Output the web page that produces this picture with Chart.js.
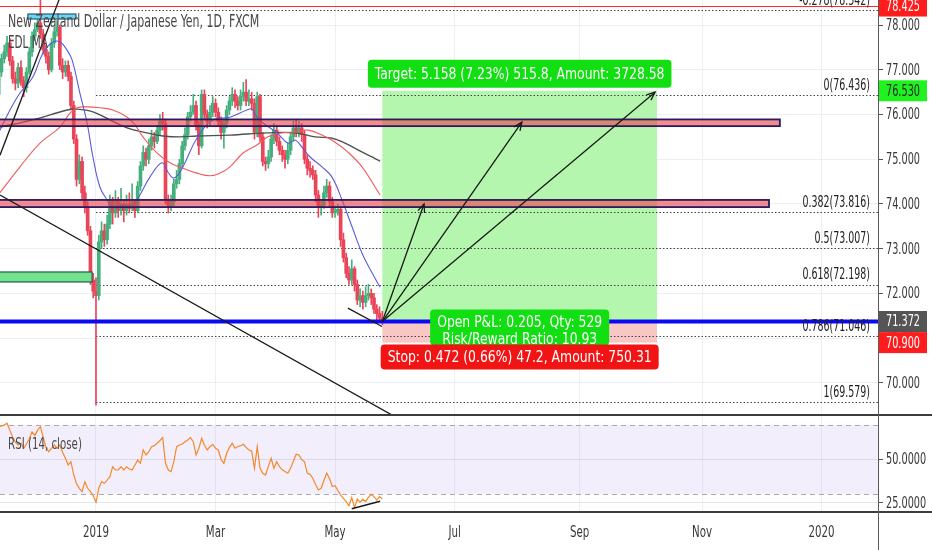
<!DOCTYPE html>
<html lang="en">
<head>
    <meta charset="UTF-8">
    <title>NZDJPY 1D</title>
    <script src="https://cdn.jsdelivr.net/npm/chart.js"></script>
    <style>
        body {
            margin: 0;
            background: #fff;
            overflow: hidden;
        }

        #wrap {
            position: relative;
            width: 932px;
            height: 550px;
        }

        canvas {
            position: absolute;
            left: 0;
        }

        #price { top: 0; }
        #rsi { top: 416px; }

        .hsep {
            position: absolute;
            left: 0;
            width: 932px;
            height: 2px;
            background: #3c3c3c;
        }

        #axisLine {
            position: absolute;
            left: 878px;
            top: 0;
            width: 1px;
            height: 550px;
            background: #5a5a5a;
        }
    </style>
</head>

<body>
    <div id="wrap">
        <canvas id="price" width="932" height="414"></canvas>
        <div class="hsep" style="top:414px"></div>
        <canvas id="rsi" width="932" height="134"></canvas>
        <div class="hsep" style="top:511px"></div>
        <div id="axisLine"></div>
    </div>

    <script>
        // ---- time axis (one unit = one daily bar, bar 0 = 13 Nov 2018) ----
        const monthBars = [35, 78, 121, 164, 209, 253, 296];
        const monthLabels = ['2019', 'Mar', 'May', 'Jul', 'Sep', 'Nov', '2020'];

        // ---- daily candles, NZD/JPY ----
        const firstOpen = 76.45;
        const closes = [
            76.95, 77.25, 77.40, 77.60, 77.20, 76.80, 76.70, 77.05, 76.75, 76.60,
            76.95, 77.40, 77.75, 77.90, 78.05, 77.80, 77.45, 77.30, 77.00, 77.60,
            77.85, 77.95, 77.10, 76.95, 77.10, 76.85, 76.20, 75.45, 74.55, 74.95,
            74.25, 73.95, 73.40, 72.30, 72.05, 71.95, 73.15, 73.40, 73.20, 73.55,
            74.05, 73.80, 74.05, 73.85, 74.00, 73.85, 74.00, 73.90, 74.05, 73.85,
            74.40, 74.85, 75.15, 75.00, 75.30, 75.50, 75.40, 75.65, 75.85, 75.80,
            74.10, 73.95, 74.05, 74.45, 74.55, 74.90, 75.30, 75.55, 75.95, 76.05,
            76.20, 75.75, 75.30, 76.45, 76.00, 75.85, 76.05, 76.25, 76.05, 75.85,
            75.60, 75.80, 76.10, 76.30, 76.45, 76.30, 76.20, 76.40, 76.50, 76.30,
            76.35, 76.25, 75.60, 76.40, 75.50, 74.95, 74.90, 75.05, 75.45, 75.65,
            75.40, 75.20, 75.10, 75.00, 75.20, 75.50, 75.70, 75.60, 75.70, 75.55,
            75.00, 74.80, 74.75, 74.65, 74.20, 73.95, 73.97, 74.25, 74.40, 74.05,
            73.80, 73.85, 73.88, 73.20, 72.80, 72.45, 72.30, 72.55, 72.20, 71.85,
            71.95, 71.80, 71.95, 72.00, 71.90, 71.65, 71.55, 71.45, 71.37
        ];
        const highs = [
            77.05, 77.35, 77.55, 77.75, 77.70, 77.30, 76.95, 77.15, 77.20, 76.85,
            77.05, 77.50, 77.85, 78.05, 78.20, 78.65, 77.90, 77.55, 77.40, 77.70,
            77.95, 78.10, 78.00, 77.25, 77.20, 77.20, 76.95, 76.30, 75.55, 75.10,
            75.05, 74.40, 74.05, 73.50, 72.45, 72.35, 73.30, 73.60, 73.55, 73.75,
            74.20, 74.15, 74.30, 74.15, 74.35, 74.10, 74.20, 74.25, 74.45, 74.10,
            74.50, 74.95, 75.30, 75.25, 75.45, 75.65, 75.60, 75.75, 76.00, 76.05,
            75.90, 74.20, 74.20, 74.55, 74.75, 75.00, 75.40, 75.70, 76.05, 76.20,
            76.45, 76.30, 75.85, 76.55, 76.55, 76.10, 76.20, 76.40, 76.35, 76.15,
            75.95, 75.90, 76.20, 76.40, 76.60, 76.55, 76.40, 76.55, 76.72, 76.78,
            76.55, 76.50, 76.35, 76.50, 76.45, 75.60, 75.05, 75.20, 75.55, 75.80,
            75.75, 75.50, 75.30, 75.20, 75.35, 75.60, 75.85, 75.90, 75.85, 75.80,
            75.65, 75.10, 74.95, 74.85, 74.75, 74.30, 74.10, 74.40, 74.55, 74.50,
            74.15, 73.95, 74.00, 73.95, 73.35, 72.90, 72.60, 72.75, 72.60, 72.30,
            72.10, 72.05, 72.15, 72.20, 72.10, 72.00, 71.75, 71.70, 71.60
        ];
        const lows = [
            76.35, 76.85, 77.15, 77.30, 77.10, 76.70, 76.55, 76.60, 76.65, 76.40,
            76.50, 76.90, 77.30, 77.65, 77.85, 77.70, 77.35, 77.15, 76.90, 76.95,
            77.50, 77.75, 77.00, 76.80, 76.85, 76.75, 76.10, 75.35, 74.40, 74.45,
            74.10, 73.80, 73.30, 72.20, 71.90, 69.50, 71.85, 73.00, 73.05, 73.10,
            73.45, 73.55, 73.70, 73.70, 73.75, 73.60, 73.75, 73.80, 73.85, 73.70,
            73.80, 74.30, 74.75, 74.85, 74.90, 75.20, 75.25, 75.35, 75.55, 75.65,
            74.00, 73.80, 73.85, 73.95, 74.35, 74.45, 74.80, 75.20, 75.45, 75.85,
            76.00, 75.65, 75.10, 75.25, 75.90, 75.70, 75.75, 75.95, 75.95, 75.75,
            75.45, 75.25, 75.70, 76.00, 76.20, 76.15, 76.10, 76.10, 76.30, 76.20,
            76.20, 76.10, 75.45, 75.50, 75.40, 74.85, 74.75, 74.80, 74.95, 75.35,
            75.30, 75.10, 74.95, 74.80, 74.90, 75.10, 75.40, 75.50, 75.50, 75.40,
            74.90, 74.65, 74.60, 74.55, 74.05, 73.70, 73.75, 73.90, 74.15, 73.95,
            73.70, 73.70, 73.75, 73.05, 72.70, 72.35, 72.20, 72.20, 72.05, 71.75,
            71.70, 71.65, 71.70, 71.85, 71.75, 71.55, 71.40, 71.35, 71.30
        ];

        // ---- moving averages (EDL MA) ----
        const maFastBars = [0.47, 4.06, 7.66, 12.3, 15.9, 19.5, 22.1, 24.6, 26.4, 29.2, 31.8, 33.9, 36.4, 39.0, 41.1,
            44.4, 47.2, 49.7, 54.4, 58.7, 60.9, 62.7, 64.5, 67.0, 71.3, 77.1, 83.2, 89.3, 91.1, 92.9, 95.1,
            100.1, 104.1, 106.6, 109.1, 112.0, 116.3, 119.9, 123.5, 127.1, 130.7, 134.3, 137.2];
        const maFastValues = [75.65, 76.10, 76.48, 76.84, 77.37, 77.62, 77.62, 77.44, 77.22, 76.48, 75.81, 75.05, 74.38,
            74.09, 73.93, 73.98, 73.93, 74.09, 74.60, 74.92, 74.71, 74.58, 74.65, 74.92, 75.47, 75.88, 75.94, 76.10,
            76.12, 75.94, 75.81, 75.59, 75.36, 75.43, 75.27, 75.05, 74.83, 74.60, 74.09, 73.49, 72.90, 72.46, 72.14];
        const maMidBars = [0.47, 7.66, 14.86, 22.05, 25.65, 28.2, 31.8, 36.4, 41.1, 46.2, 49.0, 51.9, 56.9, 61.6, 66.3,
            71.3, 76.0, 79.6, 83.2, 87.9, 92.9, 96.9, 101.9, 106.6, 111.3, 116.3, 121.0, 125.6, 130.7, 135.4, 137.2];
        const maMidValues = [74.25, 74.83, 75.36, 75.72, 76.03, 76.15, 76.17, 76.15, 76.10, 75.94, 75.77, 75.50, 75.14,
            74.92, 74.80, 74.69, 74.63, 74.69, 74.83, 75.14, 75.32, 75.50, 75.59, 75.61, 75.65, 75.54, 75.38, 75.16,
            74.83, 74.38, 74.20];
        const maSlowBars = [0.47, 12.3, 24.6, 28.2, 33.9, 40.0, 46.2, 53.3, 59.1, 65.2, 71.3, 83.2, 96.5, 106.6, 113.8,
            119.9, 124.6, 129.2, 134.3, 137.2];
        const maSlowValues = [75.72, 75.88, 76.10, 76.12, 76.06, 75.88, 75.70, 75.59, 75.52, 75.50, 75.52, 75.54, 75.59,
            75.59, 75.50, 75.47, 75.36, 75.21, 75.05, 74.96];

        // ---- RSI (14, close), one value per bar ----
        const rsiValues = [
            69, 69.5, 70, 71, 67, 63, 60, 58.4, 59.4, 56.5,
            59, 62, 66, 64, 67, 69, 63, 57, 54.5, 56.5,
            58.4, 56.5, 58.4, 54, 50.7, 46.8, 48.7, 41, 36, 33.3,
            31.4, 37.1, 33.3, 31.4, 29, 25.2, 33.3, 37.1, 36.2, 38,
            40, 45.8, 43.9, 44, 45.8, 43.9, 45.8, 44.5, 43.9, 46.8,
            49.7, 47.8, 55.5, 52.6, 54.5, 57.4, 58, 59.4, 61, 62.7,
            47.8, 43.9, 43, 48.7, 57.4, 58.4, 59, 60.3, 61.3, 62.7,
            60.3, 52.6, 56.5, 62.3, 58.4, 55.5, 57.4, 58.8, 56.5, 55.5,
            50, 47.8, 53.6, 57, 59.4, 56.5, 57.4, 58, 58.8, 57,
            55.5, 55, 44.9, 57.4, 45, 42, 41, 46, 50.7, 44.9,
            48.7, 45.8, 44, 43, 42, 44.9, 49, 53, 52.6, 50,
            48.7, 42, 41.4, 39, 35.5, 32.3, 33.3, 38, 42, 39,
            34.3, 34.8, 32, 29.4, 27.5, 25.6, 23.2, 27.9, 22.1, 27.1,
            25.2, 26.9, 25.6, 28, 29.8, 28.5, 26.5, 28.5, 27
        ];
        const rsiTicks = [25, 50];
        const rsiBand = [30, 70];

        // ---- price axis ----
        const priceTicks = [70, 71, 72, 73, 74, 75, 76, 77, 78];
        const axisTagPrices = [78.425, 76.530, 71.372, 70.900];

        // ---- drawings ----
        const fibLevels = ['-0.278', '0', '0.382', '0.5', '0.618', '0.786', '1'];
        const fibPrices = [78.342, 76.436, 73.816, 73.007, 72.198, 71.046, 69.579];
        const fibStartBar = 35;

        const zoneTops = [75.89, 74.09];
        const zoneBottoms = [75.74, 73.93];
        const zoneEndBars = [281.0, 277.1];

        const posStartBar = 138, posEndBar = 236.8;
        const posEntry = 71.372, posTarget = 76.530, posStop = 70.900;
        const arrowBars = [153.0, 188.2, 236.1];
        const arrowPrices = [74.00, 75.83, 76.50];

        const trendLines = [
            [0.47, 75.09, 24, 78.94],
            [0.47, 74.20, 141.5, 69.28],
            [125.6, 71.67, 137.9, 71.26]
        ];
        const rsiTrend = [127, 21.5, 137.2, 25.8];

        const FONT = "'DejaVu Sans Condensed', 'DejaVu Sans', sans-serif";
        const xMin = 0.47, xMax = 316.3;

        const opens = [firstOpen].concat(closes.slice(0, -1));
        const candleColors = closes.map((c, i) => c >= opens[i] ? '#45b07e' : '#e94458');

        // text helper (sx squeezes the text horizontally)
        function text(ctx, str, x, y, size, color, align, sx) {
            ctx.save();
            ctx.font = size + 'px ' + FONT;
            ctx.fillStyle = color;
            ctx.textBaseline = 'middle';
            ctx.textAlign = align || 'left';
            ctx.translate(x, y);
            ctx.scale(sx || 1, 1);
            ctx.fillText(str, 0, 0);
            ctx.restore();
        }

        function textWidth(ctx, str, size, sx) {
            ctx.save();
            ctx.font = size + 'px ' + FONT;
            const w = ctx.measureText(str).width * (sx || 1);
            ctx.restore();
            return w;
        }

        const LBL_SX = 0.86;

        function tagBox(ctx, str, cx, top, h, fill, size) {
            const w = textWidth(ctx, str, size, LBL_SX) + 14;
            ctx.fillStyle = fill;
            ctx.beginPath();
            ctx.roundRect(cx - w / 2, top, w, h, 4);
            ctx.fill();
            text(ctx, str, cx, top + h / 2 + 1, size, '#fff', 'center', LBL_SX);
        }

        function arrow(ctx, x0, y0, x1, y1) {
            ctx.beginPath();
            ctx.moveTo(x0, y0);
            ctx.lineTo(x1, y1);
            ctx.stroke();
            const a = Math.atan2(y1 - y0, x1 - x0), L = 9;
            ctx.beginPath();
            ctx.moveTo(x1 - L * Math.cos(a - 0.4), y1 - L * Math.sin(a - 0.4));
            ctx.lineTo(x1, y1);
            ctx.lineTo(x1 - L * Math.cos(a + 0.4), y1 - L * Math.sin(a + 0.4));
            ctx.stroke();
        }

        // right-hand axis labels, squeezed like the original screenshot
        function yLabels(chart, digits) {
            const { ctx, chartArea: a, scales: { y } } = chart;
            y.ticks.forEach(t => {
                text(ctx, t.value.toFixed(digits), a.right + 8, y.getPixelForValue(t.value) + 1, 15, '#383838', 'left', 0.72);
            });
        }

        const drawings = {
            id: 'drawings',
            beforeDatasetsDraw(chart) {
                const { ctx, chartArea: a, scales: { x, y } } = chart;
                const X = v => x.getPixelForValue(v), Y = v => y.getPixelForValue(v);
                ctx.save();
                ctx.beginPath();
                ctx.rect(a.left, a.top, a.right - a.left, a.bottom - a.top);
                ctx.clip();

                // long position areas
                const x0 = X(posStartBar), x1 = X(posEndBar);
                ctx.fillStyle = '#b5f6ae';
                ctx.fillRect(x0, Y(posTarget), x1 - x0, Y(posEntry) - Y(posTarget));
                ctx.fillStyle = '#f9c6c6';
                ctx.fillRect(x0, Y(posEntry), x1 - x0, Y(posStop) - Y(posEntry));

                // fibonacci levels
                ctx.strokeStyle = '#444';
                ctx.lineWidth = 1;
                ctx.setLineDash([1.5, 2]);
                fibPrices.forEach(p => {
                    const yy = Math.round(Y(p)) + 0.5;
                    ctx.beginPath();
                    ctx.moveTo(X(fibStartBar), yy);
                    ctx.lineTo(a.right, yy);
                    ctx.stroke();
                });
                ctx.restore();
            },
            afterDatasetsDraw(chart) {
                const { ctx, chartArea: a, scales: { x, y } } = chart;
                const X = v => x.getPixelForValue(v), Y = v => y.getPixelForValue(v);
                ctx.save();
                ctx.beginPath();
                ctx.rect(a.left, a.top, a.right - a.left, a.bottom - a.top);
                ctx.clip();

                // support / resistance zones
                zoneTops.forEach((t, i) => {
                    const x0 = X(-5), x1 = X(zoneEndBars[i]);
                    ctx.fillStyle = 'rgba(238, 62, 74, 0.6)';
                    ctx.fillRect(x0, Y(t), x1 - x0, Y(zoneBottoms[i]) - Y(t));
                    ctx.strokeStyle = '#2a1c5c';
                    ctx.lineWidth = 1.8;
                    ctx.strokeRect(x0, Y(t), x1 - x0, Y(zoneBottoms[i]) - Y(t));
                });

                // small boxes
                ctx.fillStyle = '#72e28c';
                ctx.strokeStyle = '#1d5e52';
                ctx.lineWidth = 1.2;
                ctx.fillRect(X(-5), Y(72.479), X(33.6) - X(-5), Y(72.256) - Y(72.479));
                ctx.strokeRect(X(-5), Y(72.479), X(33.6) - X(-5), Y(72.256) - Y(72.479));
                ctx.fillStyle = '#6fd4ef';
                ctx.strokeStyle = '#22607f';
                ctx.fillRect(X(10.5), Y(78.247), X(27.8) - X(10.5), Y(78.135) - Y(78.247));
                ctx.strokeRect(X(10.5), Y(78.247), X(27.8) - X(10.5), Y(78.135) - Y(78.247));

                // alert line and entry line
                ctx.strokeStyle = '#ff2a2a';
                ctx.lineWidth = 1;
                ctx.beginPath();
                ctx.moveTo(a.left, Math.round(Y(78.425)) + 0.5);
                ctx.lineTo(a.right, Math.round(Y(78.425)) + 0.5);
                ctx.stroke();
                ctx.strokeStyle = '#0a0af2';
                ctx.lineWidth = 4;
                ctx.beginPath();
                ctx.moveTo(a.left, Y(posEntry));
                ctx.lineTo(a.right, Y(posEntry));
                ctx.stroke();

                // trend lines
                ctx.strokeStyle = '#1a1a1a';
                ctx.lineWidth = 1.3;
                trendLines.forEach(l => {
                    ctx.beginPath();
                    ctx.moveTo(X(l[0]), Y(l[1]));
                    ctx.lineTo(X(l[2]), Y(l[3]));
                    ctx.stroke();
                });

                // arrows from the entry
                arrowBars.forEach((b, i) => arrow(ctx, X(posStartBar), Y(posEntry), X(b), Y(arrowPrices[i])));

                // fib labels
                fibPrices.forEach((p, i) => {
                    text(ctx, fibLevels[i] + '(' + p.toFixed(3) + ')', a.right - 8, Y(p) - 9, 15, '#222', 'right', 0.7);
                });

                // position labels
                const cx = (X(posStartBar) + X(posEndBar)) / 2;
                tagBox(ctx, 'Target: 5.158 (7.23%) 515.8, Amount: 3728.58', cx, Y(posTarget) - 31, 28, '#12df12', 16);
                ctx.fillStyle = '#12df12';
                ctx.beginPath();
                const pw = textWidth(ctx, 'Open P&L: 0.205, Qty: 529', 16, LBL_SX) + 14;
                ctx.roundRect(cx - pw / 2, Y(posEntry) - 12, pw, 36, 4);
                ctx.fill();
                text(ctx, 'Open P&L: 0.205, Qty: 529', cx, Y(posEntry) + 1, 16, '#fff', 'center', LBL_SX);
                text(ctx, 'Risk/Reward Ratio: 10.93', cx, Y(posEntry) + 18, 16, '#fff', 'center', LBL_SX);
                tagBox(ctx, 'Stop: 0.472 (0.66%) 47.2, Amount: 750.31', cx, Y(posStop) + 2, 25, '#f21414', 16);

                // legend texts
                text(ctx, 'New Zealand Dollar / Japanese Yen, 1D, FXCM', 8, 23, 17, '#474747', 'left', 0.72);
                text(ctx, 'EDL MA', 8, 44, 17, '#474747', 'left', 0.68);
                ctx.restore();
            },
            afterDraw(chart) {
                const { ctx, chartArea: a, scales: { y } } = chart;
                yLabels(chart, 3);
                const fills = ['#ff1c1c', '#1ff21f', '#555555', '#ff1c1c'];
                const inks = ['#fff', '#2a2a2a', '#fff', '#fff'];
                axisTagPrices.forEach((p, i) => {
                    const yy = y.getPixelForValue(p);
                    ctx.fillStyle = fills[i];
                    ctx.fillRect(a.right + 1, yy - 10.5, 48, 21);
                    text(ctx, p.toFixed(3), a.right + 25, yy + 1, 15, inks[i], 'center', 0.72);
                });
            }
        };

        new Chart(document.getElementById('price'), {
            type: 'bar',
            data: {
                datasets: [
                    {
                        type: 'line',
                        data: maFastBars.map((b, i) => ({ x: b, y: maFastValues[i] })),
                        borderColor: '#5a5cdb', borderWidth: 1.1, pointRadius: 0, tension: 0.4, order: 0
                    },
                    {
                        type: 'line',
                        data: maMidBars.map((b, i) => ({ x: b, y: maMidValues[i] })),
                        borderColor: '#f25a5a', borderWidth: 1.1, pointRadius: 0, tension: 0.4, order: 0
                    },
                    {
                        type: 'line',
                        data: maSlowBars.map((b, i) => ({ x: b, y: maSlowValues[i] })),
                        borderColor: '#505050', borderWidth: 1.4, pointRadius: 0, tension: 0.4, order: 0
                    },
                    {
                        data: closes.map((c, i) => ({ x: i, y: [opens[i], c] })),
                        backgroundColor: candleColors, barThickness: 3, grouped: false, order: 1
                    },
                    {
                        data: closes.map((c, i) => ({ x: i, y: [lows[i], highs[i]] })),
                        backgroundColor: candleColors, barThickness: 1, grouped: false, order: 2
                    }
                ]
            },
            options: {
                responsive: false,
                animation: false,
                events: [],
                layout: { padding: 0 },
                plugins: { legend: { display: false }, tooltip: { enabled: false } },
                scales: {
                    x: {
                        type: 'linear', min: xMin, max: xMax, offset: false,
                        grid: { color: '#eceff4', drawTicks: false, offset: false },
                        border: { display: false },
                        ticks: { display: false },
                        afterBuildTicks: s => { s.ticks = monthBars.map(v => ({ value: v })); },
                        afterFit: s => { s.height = 0; s.paddingLeft = 0; s.paddingRight = 0; }
                    },
                    y: {
                        position: 'right', min: 69.304, max: 78.56,
                        grid: { color: '#eceff4', tickColor: '#555', tickLength: 5 },
                        border: { display: false },
                        ticks: { display: false },
                        afterBuildTicks: s => { s.ticks = priceTicks.map(v => ({ value: v })); },
                        afterFit: s => { s.width = 54; s.paddingTop = 0; s.paddingBottom = 0; }
                    }
                }
            },
            plugins: [drawings]
        });

        const rsiDrawings = {
            id: 'rsiDrawings',
            beforeDatasetsDraw(chart) {
                const { ctx, chartArea: a, scales: { y } } = chart;
                ctx.save();
                const top = y.getPixelForValue(rsiBand[1]), bot = y.getPixelForValue(rsiBand[0]);
                ctx.fillStyle = 'rgba(160, 120, 230, 0.13)';
                ctx.fillRect(a.left, top, a.right - a.left, bot - top);
                ctx.strokeStyle = '#a9abb3';
                ctx.lineWidth = 1;
                ctx.setLineDash([5, 4]);
                [top, bot].forEach(v => {
                    ctx.beginPath();
                    ctx.moveTo(a.left, Math.round(v) + 0.5);
                    ctx.lineTo(a.right, Math.round(v) + 0.5);
                    ctx.stroke();
                });
                ctx.restore();
            },
            afterDatasetsDraw(chart) {
                const { ctx, scales: { x, y } } = chart;
                ctx.save();
                ctx.strokeStyle = '#1a1a1a';
                ctx.lineWidth = 1.5;
                ctx.beginPath();
                ctx.moveTo(x.getPixelForValue(rsiTrend[0]), y.getPixelForValue(rsiTrend[1]));
                ctx.lineTo(x.getPixelForValue(rsiTrend[2]), y.getPixelForValue(rsiTrend[3]));
                ctx.stroke();
                text(ctx, 'RSI (14, close)', 8, 29, 15, '#4a4a4a', 'left', 0.76);
                ctx.restore();
            },
            afterDraw(chart) {
                const { chartArea: a, scales: { x } } = chart;
                yLabels(chart, 4);
                x.ticks.forEach((t, i) => {
                    text(chart.ctx, monthLabels[i], x.getPixelForValue(t.value), a.bottom + 22, 15, '#383838', 'center', 0.76);
                });
            }
        };

        new Chart(document.getElementById('rsi'), {
            type: 'line',
            data: {
                datasets: [{
                    data: rsiValues.map((v, i) => ({ x: i, y: v })),
                    borderColor: '#f5892a', borderWidth: 1.2, pointRadius: 0, tension: 0
                }]
            },
            options: {
                responsive: false,
                animation: false,
                events: [],
                layout: { padding: 0 },
                plugins: { legend: { display: false }, tooltip: { enabled: false } },
                scales: {
                    x: {
                        type: 'linear', min: xMin, max: xMax,
                        grid: { color: '#eceff4', drawTicks: false },
                        border: { display: false },
                        ticks: { display: false },
                        afterBuildTicks: s => { s.ticks = monthBars.map(v => ({ value: v })); },
                        afterFit: s => { s.height = 39; s.paddingLeft = 0; s.paddingRight = 0; }
                    },
                    y: {
                        position: 'right', min: 20.14, max: 75.2,
                        grid: { color: '#e3e6ec', tickColor: '#555', tickLength: 5 },
                        border: { display: false },
                        ticks: { display: false },
                        afterBuildTicks: s => { s.ticks = rsiTicks.map(v => ({ value: v })); },
                        afterFit: s => { s.width = 54; s.paddingTop = 0; s.paddingBottom = 0; }
                    }
                }
            },
            plugins: [rsiDrawings]
        });
    </script>
</body>

</html>
